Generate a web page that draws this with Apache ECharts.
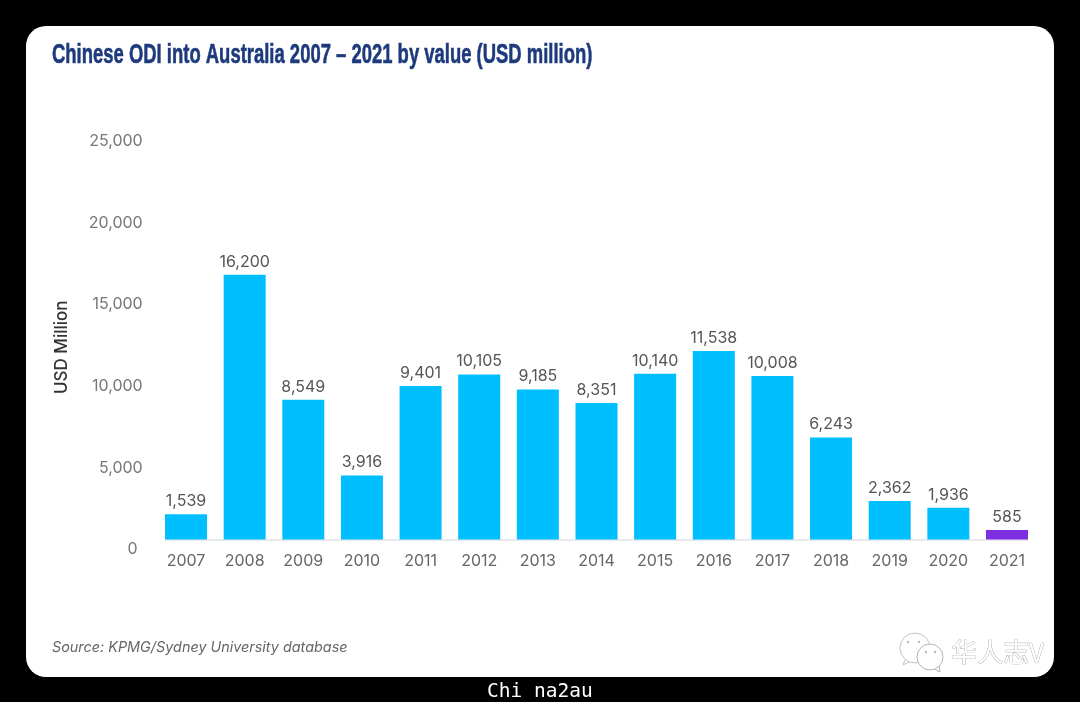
<!DOCTYPE html>
<html>
<head>
<meta charset="utf-8">
<title>Chinese ODI into Australia</title>
<script src="https://cdn.jsdelivr.net/npm/echarts@6/dist/echarts.min.js"></script>
<style>
  html, body { margin: 0; padding: 0; background: #000; }
  #chart { width: 1080px; height: 702px; }
</style>
</head>
<body>
<div id="chart"></div>
<script>
const years = ['2007', '2008', '2009', '2010', '2011', '2012', '2013', '2014', '2015', '2016', '2017', '2018', '2019', '2020', '2021'];
const odiValues = [1539, 16200, 8549, 3916, 9401, 10105, 9185, 8351, 10140, 11538, 10008, 6243, 2362, 1936, 585];
const yTicks = [0, 5000, 10000, 15000, 20000, 25000];

const BLUE = '#00bfff';
const PURPLE = '#7b2fe0';
const labelFont = 'Inter, Roboto, sans-serif';

const myChart = echarts.init(document.getElementById('chart'), null, { renderer: 'canvas' });

myChart.setOption({
    backgroundColor: '#000',
    animation: false,
    grid: { left: 156.7, right: 43.7, top: 131, bottom: 162.5 },
    xAxis: {
        type: 'category',
        data: years,
        axisLine: { show: false },
        axisTick: { show: false },
        axisLabel: { color: '#666', fontFamily: labelFont, fontSize: 16, margin: 14 }
    },
    yAxis: {
        type: 'value',
        min: yTicks[0],
        max: yTicks[yTicks.length - 1],
        interval: 5000,
        name: 'USD Million',
        nameLocation: 'middle',
        nameGap: 86,
        nameTextStyle: { color: '#333', fontFamily: labelFont, fontSize: 17, fontWeight: 500, padding: [0, 24, 0, 0] },
        axisLine: { show: false },
        axisTick: { show: false },
        splitLine: { show: false },
        axisLabel: {
            color: '#777',
            fontFamily: labelFont,
            fontSize: 16,
            margin: 14,
            padding: [20, 0, 0, 0],
            formatter: v => v === 0 ? '{zero|0}' : v.toLocaleString('en-US'),
            rich: { zero: { padding: [0, 5, 0, 0], color: '#777', fontFamily: labelFont, fontSize: 16 } }
        }
    },
    series: [{
        type: 'bar',
        barWidth: 42,
        data: odiValues.map((v, i) => ({
            value: v,
            itemStyle: { color: i === odiValues.length - 1 ? PURPLE : BLUE }
        })),
        label: {
            show: true,
            position: 'top',
            distance: 5,
            color: '#555',
            fontFamily: labelFont,
            fontSize: 16,
            formatter: p => p.value.toLocaleString('en-US')
        }
    }],
    graphic: [
        // white card behind the plot
        { type: 'rect', z: -10, shape: { x: 26, y: 26, width: 1028, height: 651, r: 20 }, style: { fill: '#fff' } },
        // baseline only runs between the outer bars
        { type: 'rect', z: -5, shape: { x: 165, y: 539, width: 863, height: 2 }, style: { fill: '#e9e9ec' } },
        // no condensed face installed, so squeeze the bold one
        {
            type: 'text', x: 52, y: 41, scaleX: 0.659,
            style: {
                text: 'Chinese ODI into Australia 2007 – 2021 by value (USD million)',
                fill: '#1d3a7d', stroke: '#1d3a7d', lineWidth: 0.6,
                font: 'bold 28px "Liberation Sans", sans-serif'
            }
        },
        { type: 'text', x: 52, y: 641, style: { text: 'Source: KPMG/Sydney University database', fill: '#666', font: 'italic 14.4px Inter, Roboto, sans-serif' } },
        // watermark
        { type: 'polyline', shape: { points: [[905, 660], [903, 665], [911, 661]] }, style: { fill: '#fff', stroke: '#c4c4c4', lineWidth: 1 } },
        { type: 'circle', shape: { cx: 915, cy: 648, r: 15 }, style: { fill: '#fff', stroke: '#c4c4c4', lineWidth: 1 } },
        { type: 'polyline', shape: { points: [[934, 669], [940, 672], [939, 666]] }, style: { fill: '#fff', stroke: '#b4b4b4', lineWidth: 1 } },
        { type: 'circle', shape: { cx: 930, cy: 657, r: 13 }, style: { fill: '#fff', stroke: '#b4b4b4', lineWidth: 1 } },
        { type: 'circle', shape: { cx: 908, cy: 642, r: 1.2 }, style: { fill: '#bbb' } },
        { type: 'circle', shape: { cx: 919, cy: 642, r: 1.2 }, style: { fill: '#bbb' } },
        { type: 'circle', shape: { cx: 926, cy: 652, r: 1.2 }, style: { fill: '#bbb' } },
        { type: 'circle', shape: { cx: 935, cy: 652, r: 1.2 }, style: { fill: '#bbb' } },
        { type: 'text', x: 951, y: 639, style: { text: '华人志V', fill: '#fff', stroke: '#999', lineWidth: 0.7, font: '26px "Noto Sans CJK SC"' } },
        // caption under the card
        { type: 'text', x: 487, y: 682, style: { text: 'Chi na2au', fill: '#fff', font: '19.5px "DejaVu Sans Mono", monospace' } }
    ]
});

window.addEventListener('resize', () => myChart.resize());
</script>
</body>
</html>
